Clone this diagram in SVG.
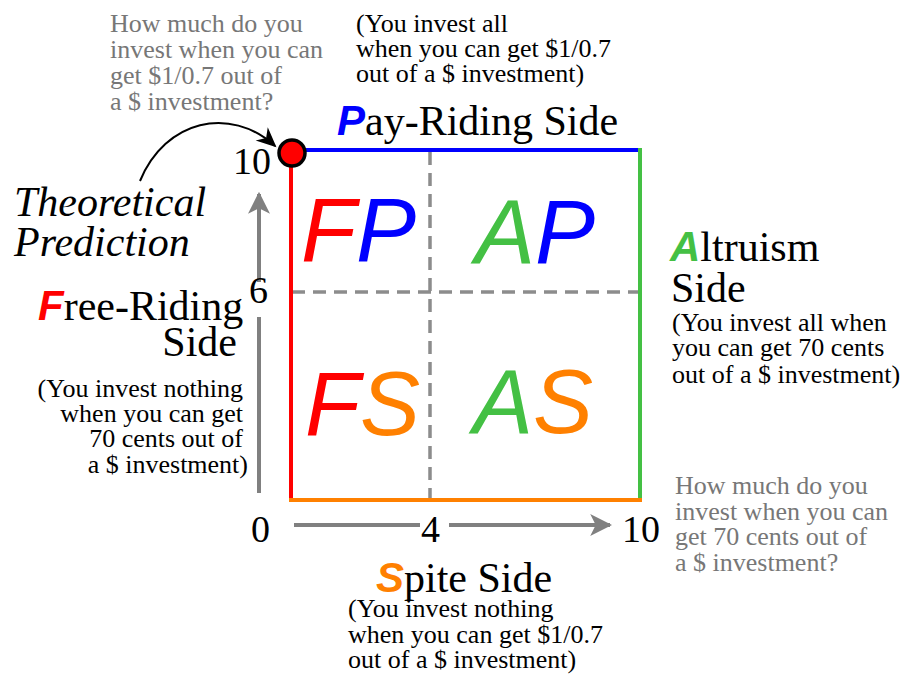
<svg xmlns="http://www.w3.org/2000/svg" width="904" height="675" viewBox="0 0 904 675">
<defs>
<style>
.t{font-family:"Liberation Serif","Times New Roman",serif;fill:#000}
.g{font-family:"Liberation Serif","Times New Roman",serif;fill:#777;font-size:26px}
.p{font-size:26px}
.big{font-size:42px}
.num{font-family:"Liberation Serif","Times New Roman",serif;font-size:38px;fill:#000}
.bi{font-family:"Liberation Sans",Arial,sans-serif;font-weight:bold;font-style:italic}
.q{font-family:"Liberation Sans",Arial,sans-serif;font-style:italic;font-size:90px}
.ax{stroke:#808080;stroke-width:4;fill:none}
.dash{stroke:#8c8c8c;stroke-width:3.5;stroke-dasharray:13 8;fill:none}
</style>
<marker id="ga" viewBox="0 0 10 10" refX="9" refY="5" markerWidth="5.5" markerHeight="5.5" orient="auto" markerUnits="strokeWidth"><path d="M0,0 L10,5 L0,10 L2.5,5 Z" fill="#808080"/></marker>
<marker id="ka" viewBox="0 0 10 10" refX="9" refY="5" markerWidth="14" markerHeight="10" orient="auto" markerUnits="strokeWidth"><path d="M0,0.5 L10,5 L0,9.5 L3,5 Z" fill="#000"/></marker>
</defs>

<g id="connectors">
<path class="dash" d="M430,152 V500"/>
<path class="dash" d="M292,292 H640"/>
<path class="ax" d="M259,493 V317"/>
<path class="ax" d="M259,282 V194" marker-end="url(#ga)"/>
<path class="ax" d="M294,525 H420"/>
<path class="ax" d="M449,525 H610" marker-end="url(#ga)"/>
<path d="M140,181 C165,120 230,105 275,146" stroke="#000" stroke-width="2" fill="none" marker-end="url(#ka)"/>
</g>

<g id="square">
<path d="M291,152 V502" stroke="#ff0000" stroke-width="4"/>
<path d="M291,150 H642" stroke="#0000ff" stroke-width="4"/>
<path d="M640,148 V500" stroke="#44c044" stroke-width="4"/>
<path d="M289,500 H642" stroke="#ff8000" stroke-width="4"/>
</g>

<g id="prediction-point">
<circle cx="292" cy="153" r="13" fill="#ff0000" stroke="#000" stroke-width="3.5"/>
</g>

<g id="quadrant-FP"><text class="q" x="301" y="261"><tspan fill="#ff0000">F</tspan><tspan fill="#0000ff">P</tspan></text></g>
<g id="quadrant-AP"><text class="q" x="475" y="263"><tspan fill="#44c044">A</tspan><tspan fill="#0000ff">P</tspan></text></g>
<g id="quadrant-FS"><text class="q" x="305" y="435"><tspan fill="#ff0000">F</tspan><tspan fill="#ff8000">S</tspan></text></g>
<g id="quadrant-AS"><text class="q" x="473" y="433"><tspan fill="#44c044">A</tspan><tspan fill="#ff8000">S</tspan></text></g>

<g id="axis-labels">
<text class="num" x="233" y="174">10</text>
<text class="num" x="249" y="303">6</text>
<text class="num" x="251" y="542">0</text>
<text class="num" x="421" y="542">4</text>
<text class="num" x="622" y="542">10</text>
</g>

<g id="pay-riding-side">
<text class="t p" x="356" y="32">(You invest all</text>
<text class="t p" x="356" y="57">when you can get $1/0.7</text>
<text class="t p" x="356" y="82">out of a $ investment)</text>
<text class="t big" x="337" y="135"><tspan class="bi" fill="#0000ff">P</tspan>ay-Riding Side</text>
</g>

<g id="question-top">
<text class="g" x="110" y="32">How much do you</text>
<text class="g" x="110" y="58">invest when you can</text>
<text class="g" x="110" y="84">get $1/0.7 out of</text>
<text class="g" x="110" y="110">a $ investment?</text>
</g>

<g id="theoretical-prediction">
<text class="t big" font-style="italic" x="14" y="216">Theoretical</text>
<text class="t big" font-style="italic" x="14" y="256">Prediction</text>
</g>

<g id="free-riding-side">
<text class="t big" x="38" y="320"><tspan class="bi" fill="#ff0000">F</tspan>ree-Riding</text>
<text class="t big" x="237" y="356" text-anchor="end">Side</text>
<text class="t p" x="243" y="397" text-anchor="end">(You invest nothing</text>
<text class="t p" x="243" y="422" text-anchor="end">when you can get</text>
<text class="t p" x="243" y="447" text-anchor="end">70 cents out of</text>
<text class="t p" x="248" y="473" text-anchor="end">a $ investment)</text>
</g>

<g id="altruism-side">
<text class="t big" x="670" y="261"><tspan class="bi" fill="#44c044">A</tspan>ltruism</text>
<text class="t big" x="671" y="302">Side</text>
<text class="t p" x="672" y="331">(You invest all when</text>
<text class="t p" x="672" y="356">you can get 70 cents</text>
<text class="t p" x="672" y="383">out of a $ investment)</text>
</g>

<g id="question-bottom">
<text class="g" x="675" y="494">How much do you</text>
<text class="g" x="675" y="520">invest when you can</text>
<text class="g" x="675" y="545">get 70 cents out of</text>
<text class="g" x="675" y="571">a $ investment?</text>
</g>

<g id="spite-side">
<text class="t big" x="376" y="592"><tspan class="bi" fill="#ff8000">S</tspan>pite Side</text>
<text class="t p" x="348" y="617">(You invest nothing</text>
<text class="t p" x="348" y="643">when you can get $1/0.7</text>
<text class="t p" x="348" y="668">out of a $ investment)</text>
</g>
</svg>
